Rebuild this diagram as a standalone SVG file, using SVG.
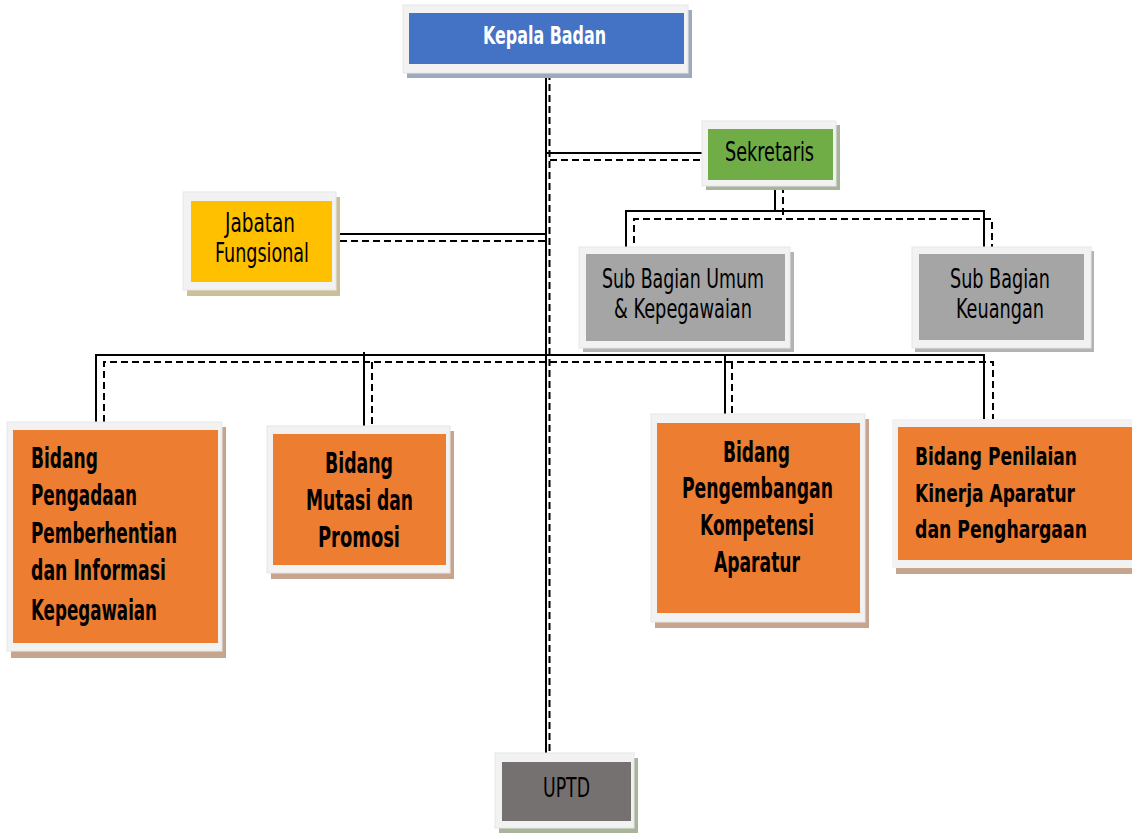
<svg xmlns="http://www.w3.org/2000/svg" width="1132" height="834" viewBox="0 0 1132 834">
<style>
.frame{fill:#f2f2f2;stroke:#e6e6e6;stroke-width:1}
.t{font-family:"Liberation Sans Narrow","DejaVu Sans Condensed","Liberation Sans",sans-serif;fill:#000}
.r{font-size:26px}
.b{font-size:28px;font-weight:bold}
.b2{font-size:24px;font-weight:bold}
.w{fill:#ffffff;font-weight:bold;font-size:25px}
.s{stroke:#000;stroke-width:2;fill:none}
.d{stroke:#000;stroke-width:2;fill:none;stroke-dasharray:7,4}
</style>
<rect width="1132" height="834" fill="#ffffff"/>
<g id="connectors">
<line class="s" x1="546" y1="73" x2="546" y2="753"/>
<line class="d" x1="549.5" y1="73" x2="549.5" y2="753"/>
<line class="s" x1="546" y1="153" x2="702" y2="153"/>
<line class="d" x1="550" y1="160" x2="702" y2="160"/>
<line class="s" x1="775" y1="186" x2="775" y2="211"/>
<line class="d" x1="783" y1="186" x2="783" y2="219"/>
<polyline class="s" points="626,254 626,211 984,211 984,254"/>
<polyline class="d" points="634,254 634,219 992,219 992,254"/>
<line class="s" x1="336" y1="234" x2="546" y2="234"/>
<line class="d" x1="340" y1="241" x2="549" y2="241"/>
<polyline class="s" points="96,422 96,355 984,355 984,419"/>
<polyline class="d" points="104,422 104,362 993,362 993,419"/>
<line class="s" x1="364" y1="352" x2="364" y2="426"/>
<line class="d" x1="372" y1="362" x2="372" y2="430"/>
<line class="s" x1="725" y1="355" x2="725" y2="414"/>
<line class="d" x1="732" y1="362" x2="732" y2="414"/>
</g>
<g id="kepala-badan">
<rect x="407" y="10" width="285" height="68" fill="#9ea8bf"/>
<rect class="frame" x="403" y="5" width="285" height="68"/>
<rect x="409" y="13" width="275" height="51" fill="#4472c4"/>
<text class="t w" x="483" y="44" textLength="123" lengthAdjust="spacingAndGlyphs">Kepala Badan</text>
</g>
<g id="sekretaris">
<rect x="706" y="125" width="134" height="65" fill="#a8b59a"/>
<rect class="frame" x="702" y="121" width="134" height="65"/>
<rect x="708" y="129" width="125" height="51" fill="#70ad47"/>
<text class="t r" x="725" y="161" textLength="89" lengthAdjust="spacingAndGlyphs">Sekretaris</text>
</g>
<g id="jabatan-fungsional">
<rect x="187" y="197" width="153" height="99" fill="#cdbf97"/>
<rect class="frame" x="183" y="192" width="153" height="98"/>
<rect x="191" y="201" width="141" height="81" fill="#ffc000"/>
<text class="t r" x="225" y="232" textLength="70" lengthAdjust="spacingAndGlyphs">Jabatan</text>
<text class="t r" x="215" y="262" textLength="94" lengthAdjust="spacingAndGlyphs">Fungsional</text>
</g>
<g id="sub-bagian-umum">
<rect x="583" y="252" width="211" height="100" fill="#b3b3b3"/>
<rect class="frame" x="579" y="247" width="211" height="101"/>
<rect x="586" y="254" width="199" height="87" fill="#a5a5a5"/>
<text class="t r" x="602" y="288" textLength="162" lengthAdjust="spacingAndGlyphs">Sub Bagian Umum</text>
<text class="t r" x="614" y="318" textLength="138" lengthAdjust="spacingAndGlyphs">&amp; Kepegawaian</text>
</g>
<g id="sub-bagian-keuangan">
<rect x="915" y="251" width="179" height="101" fill="#b3b3b3"/>
<rect class="frame" x="912" y="247" width="179" height="101"/>
<rect x="919" y="254" width="165" height="86" fill="#a5a5a5"/>
<text class="t r" x="950" y="288" textLength="100" lengthAdjust="spacingAndGlyphs">Sub Bagian</text>
<text class="t r" x="956" y="318" textLength="88" lengthAdjust="spacingAndGlyphs">Keuangan</text>
</g>
<g id="bidang-pengadaan">
<rect x="11" y="427" width="215" height="231" fill="#c6a48e"/>
<rect class="frame" x="7" y="422" width="215" height="229"/>
<rect x="13" y="430" width="205" height="213" fill="#ed7d31"/>
<text class="t b" x="31" y="468" textLength="67" lengthAdjust="spacingAndGlyphs">Bidang</text>
<text class="t b" x="31" y="505" textLength="106" lengthAdjust="spacingAndGlyphs">Pengadaan</text>
<text class="t b" x="31" y="543" textLength="146" lengthAdjust="spacingAndGlyphs">Pemberhentian</text>
<text class="t b" x="31" y="580" textLength="135" lengthAdjust="spacingAndGlyphs">dan Informasi</text>
<text class="t b" x="31" y="620" textLength="126" lengthAdjust="spacingAndGlyphs">Kepegawaian</text>
</g>
<g id="bidang-mutasi">
<rect x="271" y="431" width="183" height="148" fill="#c6a48e"/>
<rect class="frame" x="267" y="426" width="183" height="147"/>
<rect x="273" y="434" width="173" height="131" fill="#ed7d31"/>
<text class="t b" x="325" y="473" textLength="68" lengthAdjust="spacingAndGlyphs">Bidang</text>
<text class="t b" x="306" y="510" textLength="107" lengthAdjust="spacingAndGlyphs">Mutasi dan</text>
<text class="t b" x="318" y="547" textLength="82" lengthAdjust="spacingAndGlyphs">Promosi</text>
</g>
<g id="bidang-pengembangan">
<rect x="655" y="419" width="214" height="209" fill="#c6a48e"/>
<rect class="frame" x="651" y="414" width="214" height="208"/>
<rect x="657" y="423" width="203" height="190" fill="#ed7d31"/>
<text class="t b" x="723" y="462" textLength="67" lengthAdjust="spacingAndGlyphs">Bidang</text>
<text class="t b" x="682" y="498" textLength="151" lengthAdjust="spacingAndGlyphs">Pengembangan</text>
<text class="t b" x="700" y="535" textLength="114" lengthAdjust="spacingAndGlyphs">Kompetensi</text>
<text class="t b" x="714" y="572" textLength="86" lengthAdjust="spacingAndGlyphs">Aparatur</text>
</g>
<g id="bidang-penilaian">
<rect x="896" y="424" width="236" height="150" fill="#c6a48e"/>
<rect x="892" y="419" width="240" height="149" fill="#f2f2f2"/>
<rect x="898" y="427" width="234" height="133" fill="#ed7d31"/>
<text class="t b2" x="915" y="465" textLength="162" lengthAdjust="spacingAndGlyphs">Bidang Penilaian</text>
<text class="t b2" x="915" y="502" textLength="160" lengthAdjust="spacingAndGlyphs">Kinerja Aparatur</text>
<text class="t b2" x="915" y="538" textLength="172" lengthAdjust="spacingAndGlyphs">dan Penghargaan</text>
</g>
<g id="uptd">
<rect x="499" y="758" width="139" height="75" fill="#a8b59a"/>
<rect class="frame" x="495" y="753" width="139" height="75"/>
<rect x="502" y="762" width="129" height="59" fill="#767171"/>
<text class="t r" x="543" y="797" textLength="47" lengthAdjust="spacingAndGlyphs">UPTD</text>
</g>
</svg>
